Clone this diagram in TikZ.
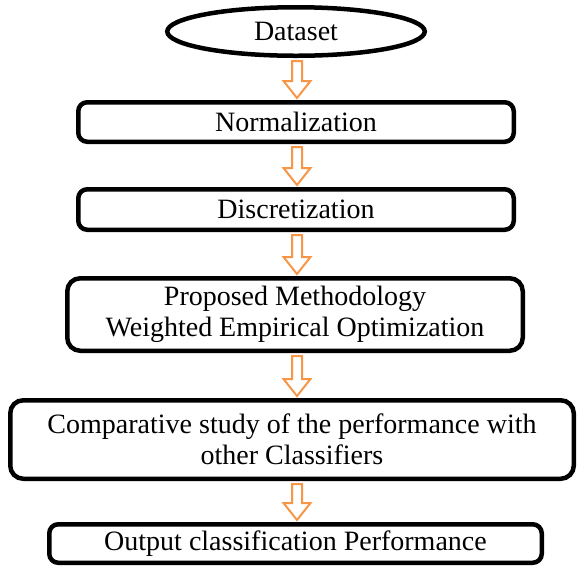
\documentclass[tikz,border=0pt]{standalone}
\usepackage{fontspec}
\setmainfont{Liberation Serif}
\usetikzlibrary{calc,shapes.geometric}

\definecolor{arroworange}{HTML}{F79646}

% hollow block arrow between the bottom of one node and the top of the next,
% kept on the vertical axis through the start oval
\newcommand\hollowarrow[2]{%
  \draw[flowarrow]
    ($(#1.south -| axis)+(-5,3)$) -- ($(#2.north -| axis)+(-5,-19)$) -- ($(#2.north -| axis)+(-13.5,-19)$)
    -- ($(#2.north -| axis)+(0,-2)$)
    -- ($(#2.north -| axis)+(13.5,-19)$) -- ($(#2.north -| axis)+(5,-19)$) -- ($(#1.south -| axis)+(5,3)$) -- cycle;}

\begin{document}
\begin{tikzpicture}[x=1pt,y=-1pt,
  every node/.style={font=\fontsize{28}{31}\selectfont, align=center, inner sep=0pt},
  stepbox/.style={draw=black, line width=4.5pt, rounded corners=9pt, fill=white},
  bigbox/.style={stepbox, rounded corners=13pt},
  startoval/.style={draw=black, line width=4.5pt, ellipse, fill=white},
  flowarrow/.style={draw=arroworange, line width=2pt, fill=white, line join=miter}]
  \useasboundingbox (0,0) rectangle (577,566);
  \coordinate (axis) at (297,0);

  \node[startoval, minimum width=257.5pt, minimum height=48.5pt] (data) at (296,31.5) {Dataset};
  \node[stepbox, minimum width=435.5pt, minimum height=39.5pt] (norm) at (296,122) {Normalization};
  \node[stepbox, minimum width=435.5pt, minimum height=40.5pt] (disc) at (296,209.5) {Discretization};
  \node[bigbox, minimum width=455.5pt, minimum height=72.5pt] (weo) at (295,314.5)
    {Proposed Methodology\\Weighted Empirical Optimization};
  \node[bigbox, minimum width=563.5pt, minimum height=78.5pt] (comp) at (292,439.5)
    {Comparative study of the performance with\\other Classifiers};
  \node[stepbox, minimum width=492.5pt, minimum height=38.5pt] (out) at (295.5,543.5)
    {Output classification Performance};

  \hollowarrow{data}{norm}
  \hollowarrow{norm}{disc}
  \hollowarrow{disc}{weo}
  \hollowarrow{weo}{comp}
  \hollowarrow{comp}{out}
\end{tikzpicture}
\end{document}
